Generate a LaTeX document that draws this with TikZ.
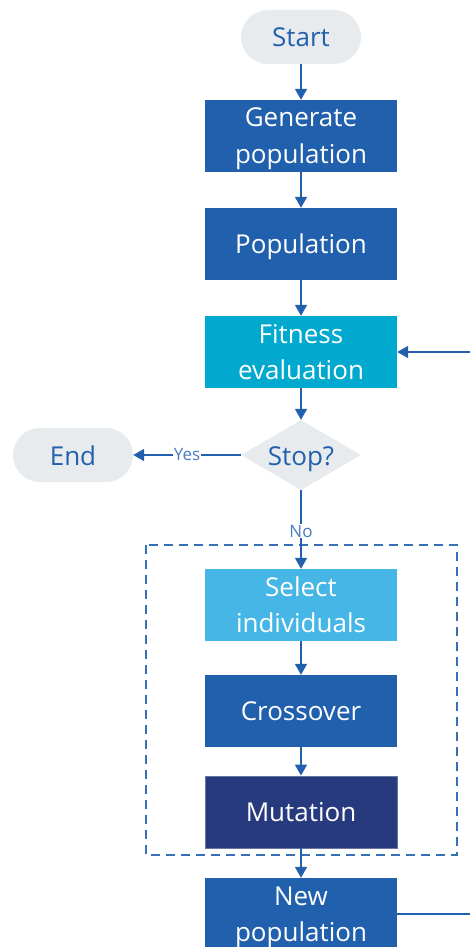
\documentclass[tikz,border=0pt]{standalone}
\usepackage{fontspec}
\setmainfont{Open Sans}
\usetikzlibrary{arrows.meta,shapes.geometric}
\definecolor{deepblue}{HTML}{2160AC}
\definecolor{cyanbox}{HTML}{02A9CE}
\definecolor{skybox}{HTML}{45B6E5}
\definecolor{navybox}{HTML}{273A7E}
\definecolor{paleg}{HTML}{E8EBED}
\definecolor{lbl}{HTML}{4A7BC0}
\tikzset{
  proc/.style={rectangle, minimum width=192pt, minimum height=72pt, inner sep=0pt,
    text=white, align=center, font=\fontsize{26}{36}\selectfont,
    text height=20pt, text depth=2pt},
  twoline/.style={text height=58pt, text depth=4pt},
  term/.style={rectangle, rounded corners=27pt, fill=paleg, minimum width=120pt,
    minimum height=54pt, inner sep=0pt, text=deepblue, font=\fontsize{26}{30}\selectfont,
    text height=20pt, text depth=0pt},
  decide/.style={diamond, fill=paleg, minimum width=120pt, minimum height=70pt,
    inner sep=0pt, aspect=1.7, text=deepblue, font=\fontsize{26}{30}\selectfont,
    text height=20pt, text depth=0pt},
  flow/.style={draw=deepblue, line width=1.6pt,
    -{Triangle[length=11pt,width=12pt]}},
  tag/.style={fill=white, inner sep=0.5pt, text=lbl, font=\fontsize{17}{18}\selectfont},
}
\begin{document}
\begin{tikzpicture}[x=1pt,y=-1pt]
\useasboundingbox (0,0) rectangle (470,947);
\clip (0,0) rectangle (470,947);
\fill[white] (0,0) rectangle (470,947);

% loop body outline
\draw[deepblue!90, line width=1.6pt, dash pattern=on 9pt off 6pt] (146,545) rectangle (457,855);

\node[term] (start) at (301,37) {Start};
\node[proc, twoline, fill=deepblue] (gen) at (301,136) {Generate\\population};
\node[proc, fill=deepblue] (pop) at (301,244) {Population};
\node[proc, twoline, fill=cyanbox] (fit) at (301,352) {Fitness\\evaluation};
\node[decide] (stop) at (301,455) {Stop?};
\node[term] (end) at (73,455) {End};
\node[proc, twoline, fill=skybox] (sel) at (301,605) {Select\\individuals};
\node[proc, fill=deepblue] (cross) at (301,711) {Crossover};
\node[proc, fill=navybox, draw=navybox!70!white, line width=0.8pt] (mut) at (301,812) {Mutation};
\node[proc, twoline, fill=deepblue] (newpop) at (301,914) {New\\population};

\coordinate (loopR) at (520,914);
\coordinate (loopT) at (520,352);

\draw[flow] (start) -- (gen);
\draw[flow] (gen) -- (pop);
\draw[flow] (pop) -- (fit);
\draw[flow] (fit) -- (stop);
\draw[flow] (stop) -- node[tag, pos=0.5] {Yes} (end);
\draw[flow] (stop) -- node[tag, pos=0.52] {No} (sel);
\draw[flow] (sel) -- (cross);
\draw[flow] (cross) -- (mut);
\draw[flow] (mut) -- (newpop);
\draw[flow] (newpop.east) -- (loopR) -- (loopT) -- (fit.east);
\end{tikzpicture}
\end{document}
